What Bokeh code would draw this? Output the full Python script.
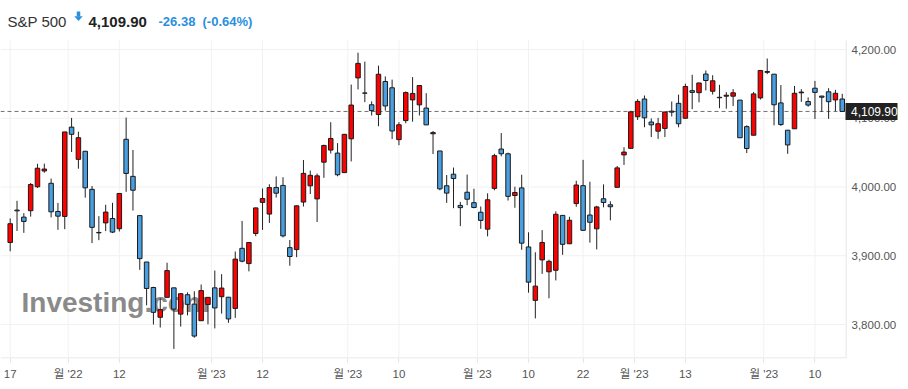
from bokeh.plotting import figure
from bokeh.models import Range1d, FixedTicker, ColumnDataSource
from bokeh.core.properties import value
from bokeh.embed import file_html
from bokeh.resources import INLINE

# ---------------- data ----------------
dates = [
    "2022-11-17","2022-11-18","2022-11-21","2022-11-22","2022-11-23","2022-11-25","2022-11-28","2022-11-29","2022-11-30",
    "2022-12-01","2022-12-02","2022-12-05","2022-12-06","2022-12-07","2022-12-08","2022-12-09","2022-12-12","2022-12-13",
    "2022-12-14","2022-12-15","2022-12-16","2022-12-19","2022-12-20","2022-12-21","2022-12-22","2022-12-23","2022-12-27",
    "2022-12-28","2022-12-29","2022-12-30",
    "2023-01-03","2023-01-04","2023-01-05","2023-01-06","2023-01-09","2023-01-10","2023-01-11","2023-01-12","2023-01-13",
    "2023-01-17","2023-01-18","2023-01-19","2023-01-20","2023-01-23","2023-01-24","2023-01-25","2023-01-26","2023-01-27",
    "2023-01-30","2023-01-31",
    "2023-02-01","2023-02-02","2023-02-03","2023-02-06","2023-02-07","2023-02-08","2023-02-09","2023-02-10","2023-02-13",
    "2023-02-14","2023-02-15","2023-02-16","2023-02-17","2023-02-21","2023-02-22","2023-02-23","2023-02-24","2023-02-27",
    "2023-02-28",
    "2023-03-01","2023-03-02","2023-03-03","2023-03-06","2023-03-07","2023-03-08","2023-03-09","2023-03-10","2023-03-13",
    "2023-03-14","2023-03-15","2023-03-16","2023-03-17","2023-03-20","2023-03-21","2023-03-22","2023-03-23","2023-03-24",
    "2023-03-27","2023-03-28","2023-03-29","2023-03-30","2023-03-31",
    "2023-04-03","2023-04-04","2023-04-05","2023-04-06","2023-04-10","2023-04-11","2023-04-12","2023-04-13","2023-04-14",
    "2023-04-17","2023-04-18","2023-04-19","2023-04-20","2023-04-21","2023-04-24","2023-04-25","2023-04-26","2023-04-27",
    "2023-04-28",
    "2023-05-01","2023-05-02","2023-05-03","2023-05-04","2023-05-05","2023-05-08","2023-05-09","2023-05-10","2023-05-11",
    "2023-05-12","2023-05-15","2023-05-16",
]

opens = [
    3919.3, 3966.4, 3956.2, 3965.5, 4000.3, 4023.3, 4005.4, 3964.4, 3957.2,
    4087.1, 4040.2, 4052.0, 3996.6, 3933.3, 3947.8, 3954.2, 3939.3, 4069.4,
    4015.5, 3958.4, 3890.9, 3853.8, 3810.5, 3839.5, 3853.3, 3815.1, 3843.3,
    3829.6, 3805.5, 3829.1,
    3853.3, 3840.4, 3839.7, 3823.4, 3910.8, 3888.6, 3932.4, 3977.6, 3960.6,
    3999.3, 4002.3, 3911.8, 3909.0, 3978.1, 4001.7, 3982.7, 4036.1, 4053.7,
    4049.3, 4020.9,
    4070.1, 4158.7, 4136.7, 4119.6, 4105.4, 4153.5, 4144.3, 4068.9, 4096.6,
    4126.7, 4119.5, 4114.8, 4077.4, 4052.4, 4001.8, 4018.6, 3973.2, 3992.4,
    3977.2,
    3963.3, 3938.7, 3998.0, 4055.2, 4048.3, 3987.6, 3998.7, 3912.8, 3835.1,
    3894.0, 3876.7, 3878.9, 3958.7, 3917.5, 3975.9, 4002.0, 3959.2, 3939.2,
    3982.9, 3974.1, 3999.5, 4046.7, 4056.2,
    4102.2, 4128.0, 4094.5, 4081.2, 4085.2, 4110.3, 4121.7, 4100.0, 4140.1,
    4137.2, 4164.3, 4139.3, 4130.5, 4132.1, 4132.1, 4126.4, 4087.8, 4075.3,
    4129.6,
    4166.8, 4164.1, 4122.3, 4082.6, 4084.7, 4137.0, 4124.3, 4143.7, 4132.2,
    4138.5, 4126.7, 4128.0,
]

highs = [
    3954.3, 3979.9, 3962.0, 4005.9, 4033.8, 4034.0, 4012.3, 3976.8, 4080.1,
    4100.5, 4080.5, 4052.5, 4001.5, 3957.6, 3974.2, 3977.0, 3990.7, 4101.0,
    4053.8, 3958.4, 3890.9, 3854.9, 3838.2, 3889.8, 3853.3, 3845.8, 3846.7,
    3848.3, 3858.2, 3839.9,
    3878.5, 3873.2, 3839.7, 3906.2, 3950.6, 3919.8, 3970.1, 3997.8, 4004.0,
    4015.4, 4014.2, 3922.9, 3973.0, 4039.3, 4023.9, 4019.6, 4061.6, 4094.2,
    4063.9, 4077.2,
    4149.0, 4195.4, 4182.4, 4124.6, 4176.5, 4160.8, 4156.2, 4094.4, 4138.9,
    4159.8, 4148.1, 4136.5, 4081.5, 4052.4, 4017.4, 4028.3, 3978.3, 4018.1,
    3997.5,
    3971.7, 3990.8, 4048.3, 4078.5, 4050.0, 4000.4, 4017.8, 3934.1, 3905.1,
    3937.3, 3894.3, 3964.5, 3958.9, 3956.6, 4009.1, 4039.5, 4007.7, 3972.7,
    4003.8, 3979.2, 4030.6, 4057.9, 4110.8,
    4127.7, 4133.1, 4099.7, 4100.5, 4109.5, 4124.3, 4134.4, 4150.3, 4163.2,
    4151.7, 4169.5, 4162.6, 4148.6, 4138.0, 4142.4, 4126.4, 4089.7, 4138.2,
    4170.1,
    4186.9, 4164.1, 4148.3, 4082.6, 4147.0, 4142.3, 4130.4, 4154.3, 4132.8,
    4143.7, 4141.3, 4135.5,
]

lows = [
    3906.5, 3936.0, 3933.3, 3956.9, 3998.7, 4020.8, 3955.8, 3937.7, 3938.6,
    4050.9, 4026.6, 3984.5, 3918.4, 3922.7, 3935.8, 3933.0, 3935.3, 3993.0,
    3965.7, 3879.5, 3827.9, 3800.0, 3795.6, 3839.5, 3764.5, 3797.0, 3813.2,
    3780.8, 3805.5, 3800.3,
    3794.3, 3815.8, 3802.4, 3809.6, 3890.4, 3877.3, 3928.5, 3937.6, 3947.7,
    3984.6, 3926.6, 3885.5, 3897.9, 3971.6, 3989.8, 3949.1, 4013.3, 4048.7,
    4015.6, 4020.4,
    4037.2, 4141.9, 4123.4, 4104.0, 4088.4, 4111.1, 4069.7, 4060.8, 4092.7,
    4095.0, 4104.0, 4089.9, 4048.0, 3995.2, 3976.9, 3969.2, 3943.1, 3973.6,
    3969.0,
    3939.1, 3928.2, 3995.2, 4044.6, 3980.3, 3969.8, 3908.7, 3846.3, 3808.9,
    3873.6, 3838.2, 3864.1, 3901.3, 3916.9, 3971.2, 3936.2, 3919.1, 3909.2,
    3970.5, 3951.5, 3999.5, 4032.1, 4056.2,
    4097.4, 4086.9, 4072.6, 4070.0, 4072.6, 4102.6, 4086.9, 4099.4, 4113.2,
    4123.2, 4140.4, 4134.5, 4114.6, 4113.9, 4117.8, 4071.4, 4049.4, 4075.3,
    4127.2,
    4164.1, 4089.7, 4088.9, 4048.3, 4084.7, 4123.8, 4116.7, 4098.9, 4109.3,
    4099.1, 4110.3, 4109.9,
]

closes = [
    3946.6, 3965.3, 3949.9, 4003.6, 4027.3, 4026.1, 3963.9, 3957.6, 4080.1,
    4076.6, 4071.7, 3998.8, 3941.3, 3933.9, 3963.5, 3934.4, 3990.6, 4019.7,
    3995.3, 3895.8, 3852.4, 3817.7, 3821.6, 3878.4, 3822.4, 3844.8, 3829.3,
    3783.2, 3849.3, 3839.5,
    3824.1, 3853.0, 3808.1, 3895.1, 3892.1, 3919.3, 3969.6, 3983.2, 3999.1,
    3991.0, 3928.9, 3898.9, 3972.6, 4019.8, 4017.0, 4016.2, 4060.4, 4070.6,
    4017.8, 4076.6,
    4119.2, 4179.8, 4136.5, 4111.1, 4164.0, 4117.9, 4081.5, 4090.5, 4137.3,
    4136.1, 4147.6, 4090.4, 4079.1, 3997.3, 3991.1, 4012.3, 3970.0, 3982.2,
    3970.2,
    3951.4, 3981.4, 4045.6, 4048.4, 3986.4, 3992.0, 3918.3, 3861.6, 3855.8,
    3919.3, 3891.9, 3960.3, 3916.6, 3951.6, 4002.9, 3937.0, 3948.7, 3971.0,
    3977.5, 3971.3, 4027.8, 4050.8, 4109.3,
    4124.5, 4100.6, 4090.4, 4092.0, 4109.1, 4108.9, 4092.0, 4146.2, 4137.6,
    4151.3, 4154.9, 4154.5, 4129.8, 4133.5, 4137.0, 4071.6, 4056.0, 4135.4,
    4169.5,
    4167.9, 4119.6, 4090.8, 4061.2, 4136.3, 4138.1, 4119.2, 4137.6, 4130.6,
    4124.1, 4136.3, 4109.9,
]

x_tick_dates = ["2022-11-17", "2022-12-01", "2022-12-12", "2023-01-03", "2023-01-12",
                "2023-02-01", "2023-02-10", "2023-03-01", "2023-03-10", "2023-03-22",
                "2023-04-03", "2023-04-13", "2023-05-01", "2023-05-10"]
x_tick_labels = ["17", "월 '22", "12", "월 '23", "12", "월 '23", "10", "월 '23", "10", "22",
                 "월 '23", "13", "월 '23", "10"]
y_ticks = [3800, 3900, 4000, 4100, 4200]

last_price = 4109.90
change = "-26.38"
change_pct = "(-0.64%)"
name = "S&P 500"

# ---------------- geometry (pixel layout of the page) ----------------
W, H = 908, 389
PX_PER_BAR = 6.82      # horizontal distance between candles
BAR0_PX = 9.7          # centre of first candle
PLOT_RIGHT_PX = 845.7  # right edge of the candle area
PLOT_TOP_PX = 40.0
AXIS_PX = 357.5        # bottom axis line
FRAME_BOTTOM_PX = 358.0
PX_PER_PT = 0.6875
Y4000_PX = 186.5


def px2x(px):
    return (px - BAR0_PX) / PX_PER_BAR


def py2y(py):
    return 4000 + (Y4000_PX - py) / PX_PER_PT


FONT = "'Liberation Sans', Arial, 'Noto Sans CJK KR', sans-serif"
BLUE_TXT = "#2b8fde"
UP = "#ff0000"
DOWN = "#4a9fe0"

# ---------------- derived ----------------
idx = list(range(len(dates)))
src = ColumnDataSource(dict(
    x=idx,
    high=highs,
    low=lows,
    top=[max(o, c) for o, c in zip(opens, closes)],
    bottom=[min(o, c) for o, c in zip(opens, closes)],
    color=[UP if c >= o else DOWN for o, c in zip(opens, closes)],
))

tick_pos = []
for d, lab in zip(x_tick_dates, x_tick_labels):
    i = dates.index(d)
    tick_pos.append(i - 0.5 if lab.startswith("월") else float(i))

xl, xr = px2x(0), px2x(W)
yb, yt = py2y(FRAME_BOTTOM_PX), py2y(0)
x_right = px2x(PLOT_RIGHT_PX)
y_top = py2y(PLOT_TOP_PX)
y_axis = py2y(AXIS_PX)

p = figure(width=W, height=H, output_backend="svg", toolbar_location=None,
           x_range=Range1d(xl, xr), y_range=Range1d(yb, yt),
           y_axis_location=None, min_border=0, min_border_bottom=int(H - FRAME_BOTTOM_PX))
p.outline_line_color = None
p.background_fill_color = "white"
p.border_fill_color = "white"
p.xgrid.visible = False
p.ygrid.visible = False

# bottom axis (ticks + labels); its line is drawn below only under the candle area
xa = p.xaxis[0]
xa.ticker = FixedTicker(ticks=tick_pos)
xa.major_label_overrides = {t: l for t, l in zip(tick_pos, x_tick_labels)}
xa.axis_line_color = None
xa.major_tick_line_color = "#e3e3e3"
xa.major_tick_out = 4
xa.major_tick_in = 0
xa.minor_tick_line_color = None
xa.major_label_standoff = 5
xa.major_label_text_font = FONT
xa.major_label_text_font_size = "11.5px"
xa.major_label_text_color = "#555555"

# grid lines, limited to the candle area
p.segment(x0=tick_pos, y0=[y_axis] * len(tick_pos), x1=tick_pos, y1=[y_top] * len(tick_pos),
          line_color="#f1f1f1", line_width=1)
p.segment(x0=[xl] * len(y_ticks), y0=y_ticks, x1=[x_right] * len(y_ticks), y1=y_ticks,
          line_color="#f1f1f1", line_width=1)
p.segment(x0=[xl], y0=[y_axis], x1=[x_right], y1=[y_axis], line_color="#e3e3e3", line_width=1)
p.segment(x0=[x_right], y0=[y_axis], x1=[x_right], y1=[y_top], line_color="#e6e6e6", line_width=1)

# watermark
p.text(x=[px2x(21)], y=[py2y(301.5)], text=["Investing.com"], text_font=value(FONT),
       text_font_style="bold", text_font_size="28px", text_color="#8a8a8a",
       text_baseline="alphabetic", text_align="left")

# last price dashed line
p.segment(x0=[xl], y0=[last_price], x1=[x_right], y1=[last_price],
          line_color="#707070", line_dash="4 3", line_width=1)

# candles
p.segment(x0="x", y0="high", x1="x", y1="low", source=src, line_color="#222222", line_width=1)
p.vbar(x="x", width=0.66, top="top", bottom="bottom", source=src,
       fill_color="color", line_color="#1a1a1a", line_width=1)

# right price axis labels
p.text(x=[px2x(851)] * len(y_ticks), y=y_ticks, text=[f"{v:,.2f}" for v in y_ticks],
       text_font=value(FONT), text_font_size="11.5px", text_color="#555555",
       text_baseline="middle", text_align="left")

# last price tag
p.rect(x=[px2x(871)], y=[last_price], width=52, height=17, width_units="screen",
       height_units="screen", fill_color="#222222", line_color=None)
p.text(x=[px2x(850.5)], y=[last_price], text=[f"{last_price:,.2f}"], text_font=value(FONT),
       text_font_size="12px", text_color="white", text_baseline="middle", text_align="left")

# header
hb = py2y(21)
p.text(x=[px2x(7)], y=[hb], text=[name], text_font=value(FONT), text_font_size="15px",
       text_color="#333333", text_baseline="alphabetic", text_align="left")
# down arrow (stem + head)
p.rect(x=[px2x(78)], y=[py2y(13.5)], width=3.5, height=5, width_units="screen",
       height_units="screen", fill_color=BLUE_TXT, line_color=None)
p.patch(x=[px2x(73.8), px2x(82.2), px2x(78)], y=[py2y(15.8), py2y(15.8), py2y(20.5)],
        fill_color=BLUE_TXT, line_color=None)
p.text(x=[px2x(88)], y=[hb], text=[f"{last_price:,.2f}"], text_font=value(FONT),
       text_font_style="bold", text_font_size="15px", text_color="#222222",
       text_baseline="alphabetic", text_align="left")
p.text(x=[px2x(158)], y=[hb], text=[change], text_font=value(FONT), text_font_style="bold",
       text_font_size="13px", text_color=BLUE_TXT, text_baseline="alphabetic", text_align="left")
p.text(x=[px2x(202)], y=[hb], text=[change_pct], text_font=value(FONT), text_font_style="bold",
       text_font_size="13px", text_color=BLUE_TXT, text_baseline="alphabetic", text_align="left")

open("out.html", "w").write(file_html(p, INLINE))
